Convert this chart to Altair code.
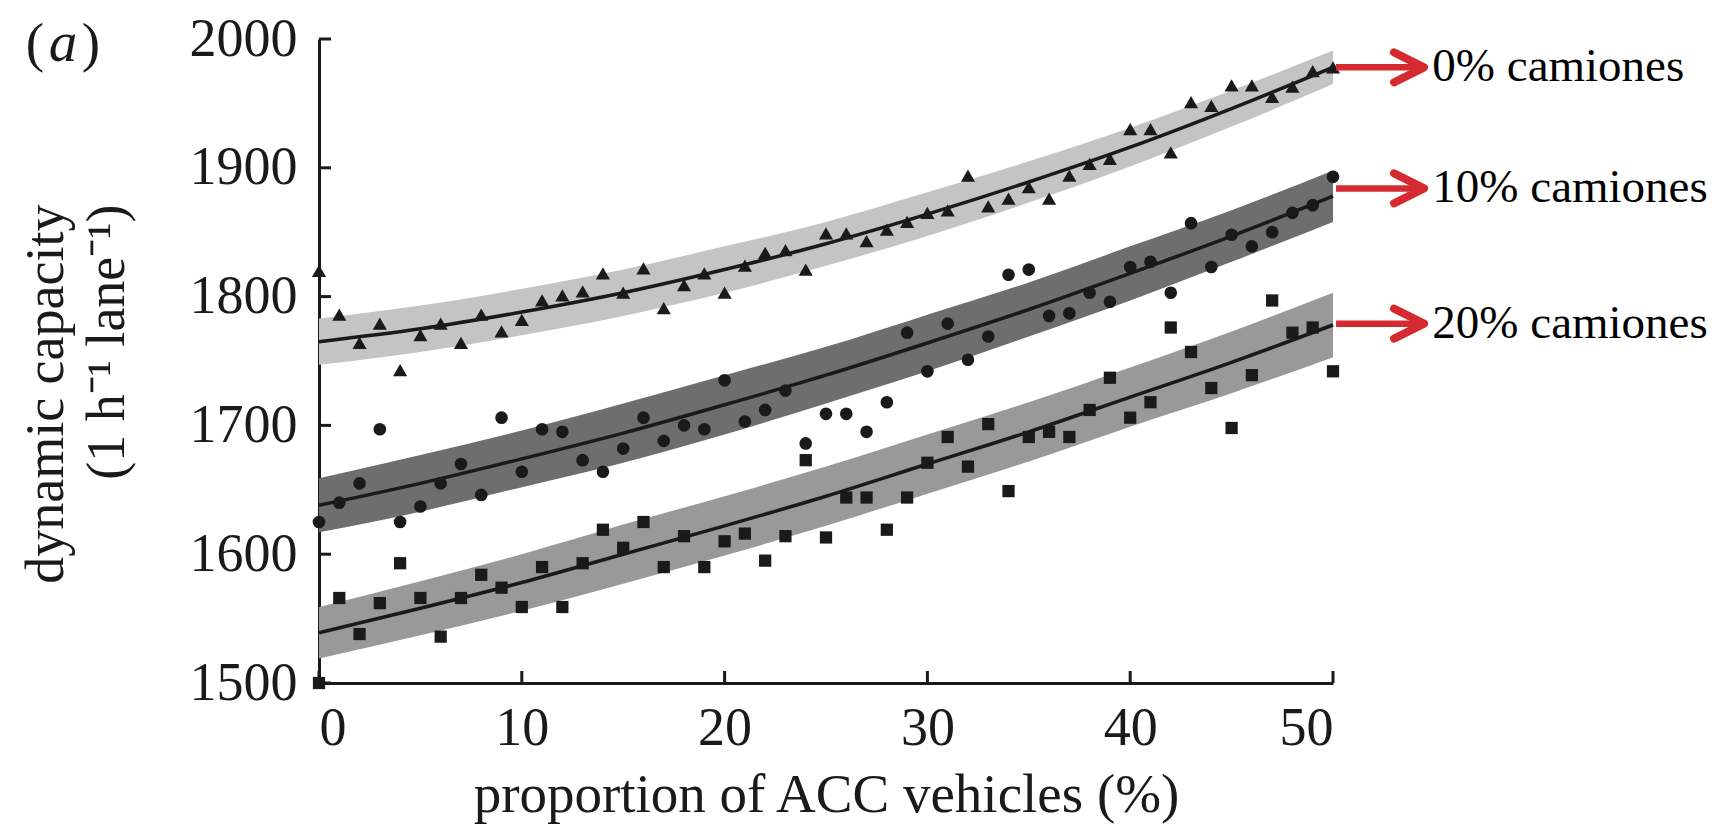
import altair as alt
import pandas as pd

# ---------------- data ----------------
X_PTS = list(range(0, 51))
CAP_0 = [1820, 1786, 1764, 1779, 1743, 1770, 1779, 1764, 1786, 1773, 1782, 1797, 1801, 1804, 1818,
         1803, 1822, 1791, 1809, 1818, 1803, 1824, 1834, 1836, 1821, 1849, 1849, 1843, 1852, 1858,
         1865, 1867, 1894, 1870, 1876, 1885, 1876, 1894, 1903, 1907, 1930, 1930, 1912, 1951, 1948,
         1964, 1964, 1955, 1963, 1975, 1978]
CAP_10 = [1625, 1640, 1655, 1697, 1625, 1637, 1655, 1670, 1646, 1706, 1664, 1697, 1695, 1673, 1664,
          1682, 1706, 1688, 1700, 1697, 1735, 1703, 1712, 1727, 1686, 1709, 1709, 1695, 1718, 1772,
          1742, 1779, 1751, 1769, 1817, 1821, 1785, 1787, 1803, 1796, 1823, 1827, 1803, 1857, 1823,
          1848, 1839, 1850, 1865, 1871, 1893]
CAP_20 = [1500, 1566, 1538, 1562, 1593, 1566, 1536, 1566, 1584, 1574, 1559, 1590, 1559, 1593, 1619,
          1605, 1625, 1590, 1614, 1590, 1610, 1616, 1595, 1614, 1673, 1613, 1644, 1644, 1619, 1644,
          1671, 1691, 1668, 1701, 1649, 1691, 1695, 1691, 1712, 1737, 1706, 1718, 1776, 1757, 1729,
          1698, 1739, 1797, 1772, 1776, 1742]

FIT_X = [0, 5, 10, 15, 20, 25, 30, 35, 40, 45, 50]
FIT_0 = [1765, 1775, 1788, 1803, 1821, 1841, 1864, 1889, 1916, 1946, 1978]
LOW_0 = [1747, 1757, 1770, 1785, 1803, 1824, 1847, 1873, 1901, 1932, 1965]
UP_0 = [1783, 1793, 1806, 1821, 1839, 1858, 1881, 1905, 1931, 1960, 1991]
FIT_10 = [1638, 1655, 1674, 1694, 1716, 1739, 1764, 1790, 1818, 1847, 1878]
LOW_10 = [1617, 1633, 1652, 1671, 1693, 1717, 1742, 1769, 1797, 1827, 1858]
UP_10 = [1659, 1677, 1696, 1717, 1739, 1761, 1786, 1811, 1839, 1867, 1898]
FIT_20 = [1539, 1558, 1578, 1600, 1622, 1645, 1670, 1695, 1722, 1749, 1778]
LOW_20 = [1519, 1537, 1556, 1577, 1599, 1622, 1647, 1672, 1699, 1725, 1753]
UP_20 = [1559, 1579, 1600, 1623, 1645, 1668, 1693, 1718, 1745, 1773, 1803]

X_TICKS = [0, 10, 20, 30, 40, 50]
Y_TICKS = [1500, 1600, 1700, 1800, 1900, 2000]

LABELS = ["0% camiones", "10% camiones", "20% camiones"]
ARROW_Y = [1978, 1884, 1779]
ARROW_X0 = 50.15
ARROW_X1 = 54.35
HEAD_X = 54.49
LABEL_X = 54.9

# ---------------- styles ----------------
FONT = "Liberation Serif"
INK = "#1a1a1a"
RED = "#d42a30"
BAND_COLORS = ["#c4c4c4", "#6e6e6e", "#999999"]
SHAPES = ["triangle-up", "circle", "square"]
SIZES = [200, 160, 150]
W, H = 1014, 644

xs = alt.Scale(domain=[0, 50], nice=False, zero=False)
ys = alt.Scale(domain=[1500, 2000], nice=False, zero=False)

x_axis = alt.Axis(values=X_TICKS, title="proportion of ACC vehicles (%)", grid=False,
                  ticks=False, tickSize=0, domainColor=INK, domainWidth=3,
                  labelFont=FONT, labelFontSize=54, labelColor=INK, labelPadding=18,
                  titleFont=FONT, titleFontSize=55, titleFontWeight="normal", titleColor=INK,
                  titleY=128, titleBaseline="alphabetic", format="d")
y_axis = alt.Axis(values=Y_TICKS, title=["dynamic capacity", "(1 h\u207b\u00b9 lane\u207b\u00b9)"],
                  grid=False, ticks=False, tickSize=0, domainColor=INK, domainWidth=3,
                  labelFont=FONT, labelFontSize=54, labelColor=INK, labelPadding=22,
                  titleFont=FONT, titleFontSize=54, titleFontWeight="normal", titleColor=INK,
                  titleAngle=-90, titleAlign="right", titleBaseline="middle",
                  titleX=-273, titleY=165, titleLineHeight=61, format="d")

layers = []
series = [(CAP_0, FIT_0, LOW_0, UP_0), (CAP_10, FIT_10, LOW_10, UP_10), (CAP_20, FIT_20, LOW_20, UP_20)]

for i, (cap, fit, low, up) in enumerate(series):
    band_df = pd.DataFrame({"x": FIT_X, "lo": low, "hi": up})
    layers.append(alt.Chart(band_df).mark_area(color=BAND_COLORS[i], opacity=1, interpolate="monotone").encode(
        x=alt.X("x:Q", scale=xs, axis=x_axis),
        y=alt.Y("lo:Q", scale=ys, axis=y_axis),
        y2="hi:Q"))

for i, (cap, fit, low, up) in enumerate(series):
    fit_df = pd.DataFrame({"x": FIT_X, "y": fit})
    layers.append(alt.Chart(fit_df).mark_line(color=INK, strokeWidth=3.5, interpolate="monotone").encode(
        x=alt.X("x:Q", scale=xs), y=alt.Y("y:Q", scale=ys)))

for i, (cap, fit, low, up) in enumerate(series):
    pts = pd.DataFrame({"x": X_PTS, "y": cap})
    layers.append(alt.Chart(pts).mark_point(shape=SHAPES[i], filled=True, color=INK, opacity=1,
                                            size=SIZES[i]).encode(
        x=alt.X("x:Q", scale=xs), y=alt.Y("y:Q", scale=ys)))

# inward ticks
yt = pd.DataFrame({"v": Y_TICKS})
layers.append(alt.Chart(yt).mark_rule(color=INK, strokeWidth=3).encode(
    y=alt.Y("v:Q", scale=ys), x=alt.value(0), x2=alt.value(12)))
xt = pd.DataFrame({"v": X_TICKS})
layers.append(alt.Chart(xt).mark_rule(color=INK, strokeWidth=3).encode(
    x=alt.X("v:Q", scale=xs), y=alt.value(H), y2=alt.value(H - 12)))

# red arrows and labels
arr = pd.DataFrame({"x0": [ARROW_X0] * 3, "x1": [ARROW_X1] * 3, "hx": [HEAD_X] * 3,
                    "y": ARROW_Y, "label": LABELS, "lx": [LABEL_X] * 3})
layers.append(alt.Chart(arr).mark_rule(color=RED, strokeWidth=6.5).encode(
    x=alt.X("x0:Q", scale=xs), x2="x1:Q", y=alt.Y("y:Q", scale=ys)))
layers.append(alt.Chart(arr).mark_point(shape="M-2,-1L0,0L-2,1", filled=False, color=RED, opacity=1,
                                        strokeWidth=8, strokeCap="round", strokeJoin="round",
                                        size=900).encode(
    x=alt.X("hx:Q", scale=xs), y=alt.Y("y:Q", scale=ys)))
layers.append(alt.Chart(arr).mark_text(font=FONT, fontSize=47, color="#000000", align="left",
                                       baseline="middle").encode(
    x=alt.X("lx:Q", scale=xs), y=alt.Y("y:Q", scale=ys), text="label:N"))

# panel letter "(a)"
PANEL = pd.DataFrame({"t": ["(a)"]})
layers.append(alt.Chart(PANEL).mark_text(font=FONT, fontSize=55, color=INK, align="center",
                                         baseline="middle").encode(
    x=alt.value(-284), y=alt.value(5), text=alt.value("(")))
layers.append(alt.Chart(PANEL).mark_text(font=FONT, fontSize=55, color=INK, align="center",
                                         baseline="middle").encode(
    x=alt.value(-228), y=alt.value(5), text=alt.value(")")))
layers.append(alt.Chart(PANEL).mark_text(font=FONT, fontSize=57, fontStyle="italic", color=INK,
                                         align="center", baseline="middle").encode(
    x=alt.value(-256), y=alt.value(5), text=alt.value("a")))

chart = alt.layer(*layers).properties(
    width=W, height=H,
    background="white",
    autosize=alt.AutoSizeParams(type="none"),
    padding={"left": 311, "top": 31, "right": 386, "bottom": 143},
).configure_view(stroke=None)

chart.save("out.html", embed_options={"renderer": "svg", "actions": False})
